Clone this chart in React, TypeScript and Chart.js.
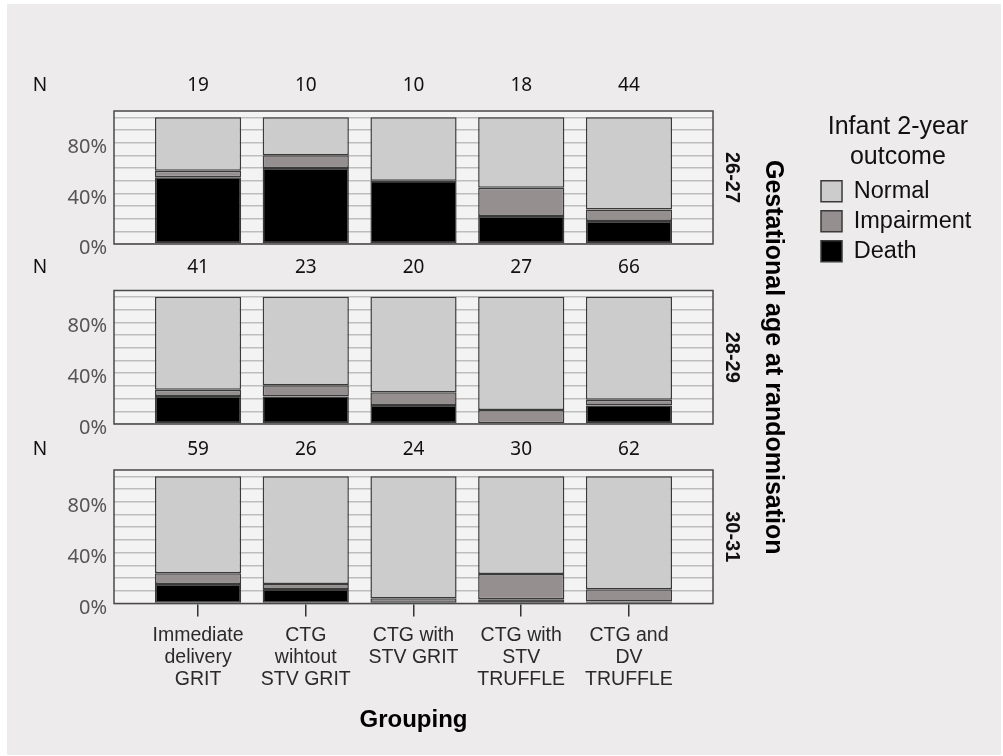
import React, { useEffect, useRef } from "react";
import { Chart, registerables } from "chart.js";

Chart.register(...registerables);

// ---------------- data ----------------
const categories: string[][] = [
  ["Immediate", "delivery", "GRIT"],
  ["CTG", "wihtout", "STV GRIT"],
  ["CTG with", "STV GRIT"],
  ["CTG with", "STV", "TRUFFLE"],
  ["CTG and", "DV", "TRUFFLE"],
];
const ageGroups = ["26-27", "28-29", "30-31"];
const seriesNames = ["Death", "Impairment", "Normal"];

const n_26_27 = [19, 10, 10, 18, 44];
const death_26_27 = [52.6, 60.0, 50.0, 22.2, 18.2];
const impairment_26_27 = [5.3, 10.0, 0.0, 22.2, 9.1];
const normal_26_27 = [42.1, 30.0, 50.0, 55.6, 72.7];

const n_28_29 = [41, 23, 20, 27, 66];
const death_28_29 = [22.0, 21.7, 15.0, 0.0, 14.5];
const impairment_28_29 = [4.9, 8.7, 10.0, 11.1, 4.5];
const normal_28_29 = [73.1, 69.6, 75.0, 88.9, 81.0];

const n_30_31 = [59, 26, 24, 30, 62];
const death_30_31 = [15.3, 11.5, 0.0, 3.3, 1.6];
const impairment_30_31 = [8.5, 3.9, 4.2, 20.0, 9.7];
const normal_30_31 = [76.2, 84.6, 95.8, 76.7, 88.7];

const yTickValues = [0, 40, 80];
const yGridValues = [0, 10, 20, 30, 40, 50, 60, 70, 80, 90, 100];
const legendTitle = ["Infant 2-year", "outcome"];
const xTitle = "Grouping";
const sideTitle = "Gestational age at randomisation";
const nLabel = "N";

// ---------------- styles ----------------
const seriesColors = ["#000000", "#958f90", "#cccccc"];
const ARIAL = '"Liberation Sans", Arial, sans-serif';
const SEGOE = '"Noto Sans", "Open Sans", sans-serif';

type PanelCfg = {
  group: number;
  counts: number[];
  values: number[][];
  canvasH: number;
  padTop: number;
  padBottom: number;
  padRight: number;
  xHeight: number;
  showXTicks: boolean;
  nOffset: number;
  legend: boolean;
  extra: "pad" | "title" | null;
  extraWidth: number;
};

const panels: PanelCfg[] = [
  {
    group: 0,
    counts: n_26_27,
    values: [death_26_27, impairment_26_27, normal_26_27],
    canvasH: 300,
    padTop: 111,
    padBottom: 0,
    padRight: 21.7,
    xHeight: 56,
    showXTicks: false,
    nOffset: 25.7,
    legend: true,
    extra: "pad",
    extraWidth: 65.5,
  },
  {
    group: 1,
    counts: n_28_29,
    values: [death_28_29, impairment_28_29, normal_28_29],
    canvasH: 756,
    padTop: 290.5,
    padBottom: 332,
    padRight: 214,
    xHeight: 0,
    showXTicks: false,
    nOffset: 22.5,
    legend: false,
    extra: "title",
    extraWidth: 40,
  },
  {
    group: 2,
    counts: n_30_31,
    values: [death_30_31, impairment_30_31, normal_30_31],
    canvasH: 756,
    padTop: 470,
    padBottom: 12.5,
    padRight: 254,
    xHeight: 140,
    showXTicks: true,
    nOffset: 20,
    legend: false,
    extra: null,
    extraWidth: 0,
  },
];

const framePlugin = {
  id: "frame",
  beforeDraw(chart: any) {
    const { ctx, chartArea: a } = chart;
    ctx.save();
    ctx.fillStyle = "#f3f3f3";
    ctx.fillRect(a.left, a.top, a.right - a.left, a.bottom - a.top);
    ctx.restore();
  },
  afterDatasetsDraw(chart: any) {
    const { ctx, chartArea: a } = chart;
    ctx.save();
    ctx.strokeStyle = "#4a4a4a";
    ctx.lineWidth = 1.5;
    ctx.strokeRect(a.left, a.top, a.right - a.left, a.bottom - a.top);
    ctx.restore();
  },
};

function nRowPlugin(counts: number[], offset: number) {
  return {
    id: "nRow",
    afterDraw(chart: any) {
      const { ctx, chartArea } = chart;
      const xs = chart.scales.x;
      const y = chartArea.top - offset;
      ctx.save();
      ctx.font = `19px ${SEGOE}`;
      ctx.fillStyle = "#111111";
      ctx.textAlign = "center";
      ctx.textBaseline = "middle";
      ctx.fillText(nLabel, 40, y);
      counts.forEach((c, i) => ctx.fillText(String(c), xs.getPixelForValue(i), y));
      ctx.restore();
    },
  };
}

function Panel({ cfg }: { cfg: PanelCfg }) {
  const ref = useRef<HTMLCanvasElement | null>(null);

  useEffect(() => {
    if (!ref.current) return;

    const scales: any = {
      x: {
        type: "linear",
        min: -0.78,
        max: 4.78,
        offset: false,
        stacked: true,
        display: true,
        afterBuildTicks: (s: any) => {
          s.ticks = categories.map((_, i) => ({ value: i }));
        },
        afterFit: (s: any) => {
          s.height = cfg.xHeight;
          s.paddingLeft = 0;
          s.paddingRight = 0;
        },
        border: { display: false },
        grid: {
          display: cfg.showXTicks,
          offset: false,
          drawOnChartArea: false,
          drawTicks: true,
          tickLength: 13,
          color: "#333333",
          lineWidth: 1.5,
        },
        ticks: {
          display: cfg.showXTicks,
          autoSkip: false,
          maxRotation: 0,
          minRotation: 0,
          padding: 8.5,
          color: "#2a2a2a",
          font: { family: ARIAL, size: 19.5, lineHeight: "22px" },
          callback: (v: any) => categories[Math.round(Number(v))] ?? "",
        },
        title: {
          display: cfg.showXTicks,
          text: xTitle,
          color: "#000000",
          font: { family: ARIAL, size: 24, weight: "bold" },
          padding: { top: 0, bottom: 9.2 },
        },
      },
      y: {
        type: "linear",
        position: "left",
        min: 0,
        max: 105,
        stacked: true,
        afterBuildTicks: (s: any) => {
          s.ticks = yGridValues.map((v) => ({ value: v }));
        },
        afterFit: (s: any) => {
          s.width = 114;
          s.paddingTop = 0;
          s.paddingBottom = 0;
        },
        border: { display: false },
        grid: { color: "#bdbdbd", lineWidth: 1.5, drawTicks: false },
        ticks: {
          autoSkip: false,
          padding: 7,
          labelOffset: 4.5,
          color: "#555555",
          font: { family: SEGOE, size: 20 },
          callback: (v: any) => (yTickValues.includes(Number(v)) ? `${v}%` : ""),
        },
      },
      yR: {
        type: "linear",
        position: "right",
        display: true,
        afterFit: (s: any) => {
          s.width = 36;
          s.paddingTop = 0;
          s.paddingBottom = 0;
        },
        border: { display: false },
        grid: { display: false },
        ticks: { display: false },
        title: {
          display: true,
          text: ageGroups[cfg.group],
          color: "#111111",
          font: { family: ARIAL, size: 20, weight: "bold" },
          padding: { top: 5.5, bottom: 0 },
        },
      },
    };

    if (cfg.extra) {
      scales.yE = {
        type: "linear",
        position: "right",
        display: true,
        afterFit: (s: any) => {
          s.width = cfg.extraWidth;
          s.paddingTop = 0;
          s.paddingBottom = 0;
        },
        border: { display: false },
        grid: { display: false },
        ticks: { display: false },
        title: {
          display: cfg.extra === "title",
          text: sideTitle,
          color: "#000000",
          font: { family: ARIAL, size: 25, weight: "bold" },
          padding: { top: 1.2, bottom: 0 },
        },
      };
    }

    const chart = new Chart(ref.current, {
      type: "bar",
      data: {
        datasets: seriesNames.map((name, k) => ({
          label: name,
          data: cfg.values[k].map((v, i) => ({ x: i, y: v })),
          backgroundColor: seriesColors[k],
          borderColor: "#3a3a3a",
          borderWidth: 1.5,
          borderSkipped: false,
          categoryPercentage: 1,
          barPercentage: 0.8,
        })),
      } as any,
      options: {
        animation: false,
        responsive: false,
        maintainAspectRatio: false,
        events: [],
        layout: {
          autoPadding: false,
          padding: { top: cfg.padTop, bottom: cfg.padBottom, left: 0, right: cfg.padRight },
        },
        scales,
        plugins: {
          tooltip: { enabled: false },
          title: { display: false },
          legend: {
            display: cfg.legend,
            position: "right",
            align: "start",
            reverse: true,
            maxWidth: 400,
            title: {
              display: true,
              text: legendTitle,
              color: "#111111",
              position: "center",
              font: { family: ARIAL, size: 25 },
              padding: { top: 3.5, bottom: 28.45 },
            },
            labels: {
              boxWidth: 21,
              boxHeight: 21,
              padding: 6.5,
              color: "#111111",
              font: { family: ARIAL, size: 23.5 },
            },
          },
        },
      } as any,
      plugins: [framePlugin, nRowPlugin(cfg.counts, cfg.nOffset)],
    });

    return () => chart.destroy();
  }, [cfg]);

  return (
    <canvas
      ref={ref}
      width={1003}
      height={cfg.canvasH}
      style={{ position: "absolute", left: 0, top: 0, width: 1003, height: cfg.canvasH, display: "block" }}
    />
  );
}

export default function App() {
  return (
    <div
      style={{
        position: "absolute",
        left: 0,
        top: 0,
        width: 1003,
        height: 756,
        background: "#ffffff",
        overflow: "hidden",
      }}
    >
      <div
        style={{
          position: "absolute",
          left: 7,
          top: 4,
          width: 994,
          height: 751,
          background: "#edebec",
        }}
      />
      {panels.map((p) => (
        <Panel key={p.group} cfg={p} />
      ))}
    </div>
  );
}
